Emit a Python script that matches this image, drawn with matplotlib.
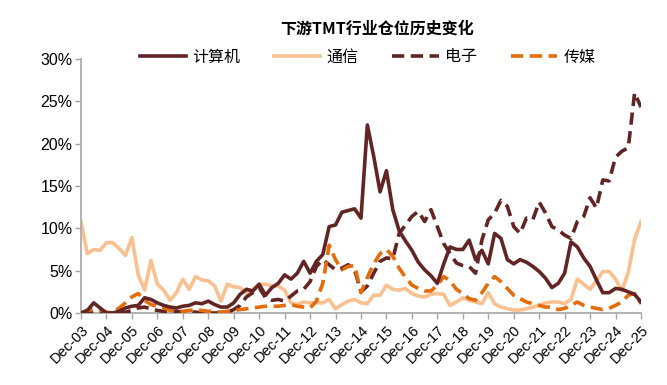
import numpy as np
import matplotlib
matplotlib.use("Agg")
import matplotlib.pyplot as plt

plt.rcParams["font.family"] = ["Liberation Sans", "Noto Sans CJK SC", "DejaVu Sans"]

# quarterly positions, Dec-03 .. Dec-25 (89 quarters)
years = [f"Dec-{y:02d}" for y in range(3, 26)]

computer = [0.0, 0.3, 1.2, 0.6, 0.0, 0.0, 0.2, 0.6, 0.8, 0.9,
            1.8, 1.6, 1.2, 0.9, 0.7, 0.6, 0.8, 0.9, 1.2, 1.1,
            1.4, 1.0, 0.7, 0.7, 1.2, 2.2, 2.8, 2.6, 3.4, 2.1,
            3.0, 3.5, 4.5, 4.0, 4.7, 6.1, 4.7, 6.1, 6.9, 10.2,
            10.4, 11.9, 12.1, 12.3, 11.2, 22.2, 18.5, 14.3, 16.8, 12.2,
            9.7, 8.5, 7.4, 6.0, 5.1, 4.4, 3.5, 5.8, 7.8, 7.5,
            7.5, 8.6, 6.3, 7.4, 5.8, 9.4, 8.8, 6.3, 5.8, 6.3,
            6.0, 5.5, 4.9, 4.1, 3.0, 3.5, 4.7, 8.4, 7.8, 6.5,
            5.5, 3.9, 2.4, 2.4, 2.9, 2.8, 2.5, 2.2, 1.3]

telecom = [10.8, 7.0, 7.5, 7.4, 8.3, 8.3, 7.6, 6.8, 8.9, 4.5,
           2.7, 6.2, 3.4, 2.7, 1.5, 2.4, 4.0, 2.8, 4.3, 3.9,
           3.8, 3.2, 1.4, 3.4, 3.1, 3.0, 2.4, 2.8, 3.4, 3.4,
           3.2, 3.2, 2.7, 1.2, 1.0, 1.3, 1.2, 1.2, 1.2, 1.6,
           0.5, 1.0, 1.4, 1.6, 1.2, 1.1, 2.1, 2.1, 3.3, 2.8,
           2.7, 2.9, 2.3, 2.0, 1.9, 2.2, 2.3, 2.2, 0.9, 1.3,
           1.8, 1.5, 1.3, 1.1, 2.4, 1.1, 0.7, 0.5, 0.35, 0.35,
           0.5, 0.7, 0.9, 1.2, 1.3, 1.3, 1.1, 1.6, 4.0, 3.4,
           2.8, 3.8, 4.9, 4.9, 4.0, 2.6, 4.8, 8.7, 10.8]

electronics = [0.0, 0.0, 0.0, 0.0, 0.0, 0.0, 0.0, 0.1, 0.3, 0.6,
               0.7, 0.5, 0.3, 0.2, 0.2, 0.2, 0.1, 0.1, 0.1, 0.0,
               0.0, 0.0, 0.0, 0.1, 0.4, 0.9, 1.9, 2.4, 3.0, 1.8,
               1.5, 1.6, 1.4, 2.0, 2.6, 2.8, 3.7, 5.5, 6.3, 5.7,
               5.1, 5.3, 5.7, 5.1, 2.5, 3.2, 4.7, 6.1, 6.5, 6.4,
               9.4, 10.4, 11.4, 12.0, 10.8, 12.2, 10.2, 8.2, 7.0, 5.9,
               5.6, 5.5, 4.7, 8.6, 11.0, 11.8, 13.3, 12.6, 10.2, 9.4,
               11.2, 11.0, 13.1, 11.8, 10.2, 9.8, 9.2, 8.8, 10.8, 11.4,
               13.6, 12.4, 15.7, 15.6, 18.4, 19.1, 19.5, 26.0, 24.3]

media = [0.0, 0.3, 0.5, 0.4, 0.1, 0.0, 0.6, 1.2, 1.9, 2.3,
         1.5, 1.0, 0.8, 0.6, 0.3, 0.2, 0.2, 0.3, 0.4, 0.3,
         0.2, 0.2, 0.1, 0.2, 0.3, 0.4, 0.5, 0.6, 0.7, 0.8,
         0.8, 0.8, 0.9, 1.0, 0.8, 0.7, 0.6, 1.4, 3.5, 8.0,
         6.3, 5.1, 5.5, 5.6, 2.4, 4.2, 5.8, 7.0, 7.5, 6.7,
         5.3, 4.2, 3.3, 2.9, 2.6, 2.6, 3.3, 4.3, 3.8, 2.8,
         2.3, 1.7, 1.5, 2.4, 3.5, 4.3, 3.7, 2.9, 2.1, 1.7,
         1.3, 1.1, 0.9, 0.7, 0.7, 0.4, 0.55, 0.9, 1.3, 0.9,
         0.7, 0.55, 0.4, 0.55, 0.9, 1.3, 2.1, 2.3, 1.1]

DARK = "#632523"
PEACH = "#FAC090"
ORANGE = "#E46C0A"

x = np.arange(len(computer))

fig = plt.figure(figsize=(6.67, 3.85), dpi=100)
ax = fig.add_axes([0.1214, 0.187, 0.8396, 0.66])

lw = 2.6
dash = (0, (3.4, 1.8))
ax.plot(x, computer, color=DARK, lw=lw, label="计算机", zorder=4)
ax.plot(x, telecom, color=PEACH, lw=lw, label="通信", zorder=2)
ax.plot(x, electronics, color=DARK, lw=lw, ls=dash, label="电子", zorder=3)
ax.plot(x, media, color=ORANGE, lw=lw, ls=dash, label="传媒", zorder=3)

ax.set_xlim(0, len(x) - 1)
ax.set_ylim(0, 30)
ax.set_yticks(range(0, 31, 5))
ax.set_yticklabels([f"{v}%" for v in range(0, 31, 5)], fontsize=11.5)

ax.set_xticks(np.arange(0, len(x), 4))
ax.set_xticklabels(years, rotation=45, ha="right", rotation_mode="anchor", fontsize=10.5)

for s in ["top", "right"]:
    ax.spines[s].set_visible(False)
for s in ["left", "bottom"]:
    ax.spines[s].set_color("#A6A6A6")
    ax.spines[s].set_linewidth(1.2)
ax.tick_params(axis="both", colors="#A6A6A6", length=4, width=1, direction="out")
ax.tick_params(axis="both", labelcolor="black")
ax.tick_params(axis="x", pad=3)
ax.tick_params(axis="y", pad=2)

fig.text(0.565, 0.925, "下游TMT行业仓位历史变化", ha="center", va="center",
         fontsize=11.5, fontweight="bold",
         family=["Noto Sans CJK SC", "DejaVu Sans"])

leg = fig.legend(loc="center", bbox_to_anchor=(0.551, 0.852), ncol=4, frameon=False,
                 prop={"family": ["Noto Sans CJK SC", "DejaVu Sans"], "size": 11.5},
                 handlelength=2.9, columnspacing=2.1, handletextpad=0.4)

fig.savefig("out.png", dpi=100)
